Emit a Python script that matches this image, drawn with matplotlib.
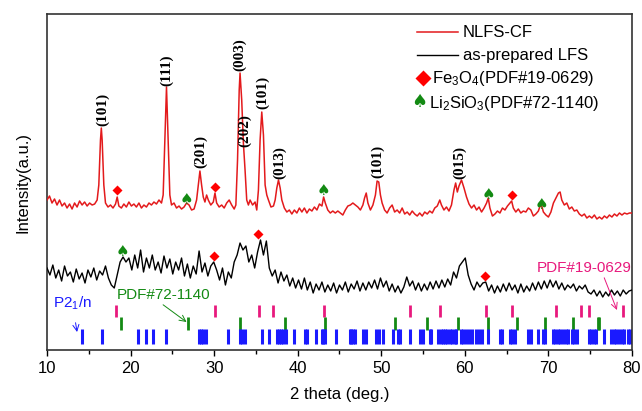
import numpy as np
import matplotlib
matplotlib.use("Agg")
import matplotlib.pyplot as plt

plt.rcParams['font.family'] = ['Liberation Sans', 'DejaVu Sans']
plt.rcParams['mathtext.fontset'] = 'custom'
plt.rcParams['mathtext.rm'] = 'Liberation Sans'
plt.rcParams['mathtext.it'] = 'Liberation Sans'

# ---------------- data ----------------
red_tt = [10.0, 10.3, 10.6, 10.9, 11.2, 11.5, 11.8, 12.1, 12.4, 12.7, 13.0, 13.3, 13.6, 13.9, 14.2, 14.5, 14.8, 15.1, 15.4, 15.7,
          16.0, 16.2, 16.4, 16.5, 16.6, 16.8, 17.0, 17.3, 17.6, 17.9, 18.2, 18.4, 18.6, 18.9, 19.2, 19.5, 19.8, 20.1, 20.4, 20.7,
          21.0, 21.3, 21.6, 21.9, 22.2, 22.5, 22.8, 23.1, 23.4, 23.7, 23.9, 24.1, 24.3, 24.5, 24.7, 24.9, 25.2, 25.5, 25.8, 26.1,
          26.4, 26.7, 27.0, 27.3, 27.6, 27.9, 28.1, 28.3, 28.5, 28.7, 28.9, 29.1, 29.3, 29.6, 29.9, 30.1, 30.3, 30.6, 30.9, 31.2,
          31.5, 31.8, 32.1, 32.4, 32.6, 32.8, 33.0, 33.1, 33.3, 33.5, 33.7, 33.9, 34.1, 34.3, 34.6, 34.9, 35.1, 35.3, 35.5, 35.7,
          35.9, 36.1, 36.3, 36.5, 36.8, 37.1, 37.3, 37.5, 37.7, 37.9, 38.1, 38.4, 38.7, 39.0, 39.3, 39.6, 39.9, 40.2, 40.5, 40.8,
          41.1, 41.4, 41.7, 42.0, 42.3, 42.6, 42.9, 43.1, 43.3, 43.6, 43.9, 44.2, 44.5, 44.8, 45.1, 45.4, 45.7, 46.0, 46.3, 46.6,
          46.9, 47.2, 47.5, 47.8, 48.0, 48.2, 48.4, 48.7, 49.0, 49.3, 49.5, 49.7, 49.9, 50.1, 50.4, 50.7, 51.0, 51.3, 51.6, 51.9,
          52.2, 52.5, 52.8, 53.1, 53.4, 53.7, 54.0, 54.3, 54.6, 54.9, 55.2, 55.5, 55.8, 56.1, 56.4, 56.7, 57.0, 57.2, 57.5, 57.8,
          58.1, 58.4, 58.7, 58.9, 59.1, 59.3, 59.6, 59.9, 60.2, 60.5, 60.8, 61.1, 61.4, 61.7, 62.0, 62.3, 62.6, 62.8, 63.0, 63.3,
          63.6, 63.9, 64.2, 64.5, 64.8, 65.1, 65.4, 65.6, 65.8, 66.1, 66.4, 66.7, 67.0, 67.3, 67.6, 67.9, 68.2, 68.5, 68.8, 69.0,
          69.2, 69.4, 69.7, 70.0, 70.3, 70.6, 70.9, 71.2, 71.4, 71.6, 71.9, 72.2, 72.5, 72.8, 73.1, 73.4, 73.7, 74.0, 74.3, 74.6,
          74.9, 75.2, 75.5, 75.8, 76.1, 76.4, 76.7, 77.0, 77.3, 77.6, 77.9, 78.2, 78.5, 78.8, 79.1, 79.4, 79.7, 80.0]
red_int = [150, 154, 147, 151, 145, 150, 144, 147, 142, 146, 141, 147, 143, 149, 145, 148, 144, 147, 145, 146,
           150, 165, 210, 222, 210, 165, 147, 143, 145, 142, 146, 153, 144, 142, 146, 143, 148, 144, 146, 143,
           147, 142, 145, 143, 147, 145, 148, 146, 150, 147, 155, 210, 263, 210, 155, 145, 147, 142, 144, 141,
           143, 147, 145, 140, 141, 150, 165, 179, 165, 153, 148, 155, 150, 145, 148, 157, 147, 143, 145, 142,
           147, 150, 145, 141, 145, 190, 260, 277, 250, 207, 180, 150, 145, 150, 145, 148, 140, 160, 210, 238,
           215, 165, 155, 150, 143, 144, 150, 162, 170, 162, 150, 142, 138, 140, 136, 140, 137, 142, 138, 142,
           137, 141, 139, 143, 140, 146, 144, 153, 147, 140, 137, 139, 137, 139, 137, 135, 140, 144, 145, 147,
           145, 143, 140, 145, 152, 157, 147, 140, 145, 155, 169, 168, 155, 147, 140, 137, 142, 145, 138, 140,
           137, 142, 136, 138, 135, 139, 136, 134, 137, 134, 138, 136, 139, 137, 142, 144, 150, 145, 140, 143,
           139, 145, 160, 167, 158, 164, 170, 162, 153, 146, 142, 145, 140, 143, 138, 142, 147, 152, 142, 134,
           136, 139, 137, 142, 140, 144, 147, 149, 142, 138, 141, 137, 139, 138, 142, 140, 134, 136, 139, 144,
           144, 138, 135, 133, 138, 147, 152, 157, 158, 150, 145, 147, 141, 143, 139, 140, 136, 134, 136, 132,
           134, 132, 135, 131, 133, 131, 134, 132, 135, 133, 136, 134, 137, 135, 137, 136, 137, 137]

black_int = [82, 75, 85, 72, 80, 69, 84, 74, 78, 68,
             81, 71, 77, 67, 80, 73, 82, 70, 79, 75,
             84, 72, 65, 62, 75, 88, 93, 88, 92, 80,
             95, 82, 100, 78, 92, 82, 95, 80, 88, 77,
             94, 82, 91, 76, 88, 80, 92, 74, 86, 72,
             84, 76, 99, 78, 87, 74, 84, 88, 80, 70,
             82, 65, 78, 72, 88, 95, 107, 100, 104, 88,
             95, 82, 98, 110, 95, 109, 82, 74, 80, 67,
             78, 69, 75, 64, 72, 62, 70, 61, 72, 60,
             68, 57, 66, 60, 68, 58, 65, 59, 67, 57,
             65, 60, 68, 58, 66, 61, 69, 59, 67, 60,
             68, 62, 70, 61, 72, 63, 69, 59, 66, 58,
             64, 57, 63, 73, 64, 69, 60, 67, 59, 66,
             60, 68, 61, 69, 62, 70, 63, 71, 65, 78,
             72, 84, 88, 92, 75, 66, 60, 68, 63, 67,
             68, 59, 65, 57, 64, 58, 66, 59, 67, 60,
             65, 57, 66, 58, 64, 59, 67, 60, 68, 61,
             69, 62, 70, 63, 69, 61, 67, 60, 65, 62,
             66, 59, 64, 61, 65, 58, 56, 60, 54, 59,
             53, 58, 54, 60, 55, 59, 54, 60, 56, 59,
             60]
black_tt = np.linspace(10, 80, len(black_int))

# phase markers on patterns
red_fe3o4_tt = [18.4, 30.1, 65.6]
red_fe3o4_int = [160, 163, 155]
red_li2sio3_tt = [26.7, 43.1, 62.8, 69.2]
red_li2sio3_int = [151, 160, 156, 146]
black_fe3o4_tt = [30.0, 35.3, 62.4]
black_fe3o4_int = [94, 116, 74]
black_li2sio3_tt = [19.0]
black_li2sio3_int = [99]

# hkl labels
hkl_labels = ['(101)', '(111)', '(201)', '(003)', '(202)', '(101)', '(013)', '(101)', '(015)']
hkl_tt = [16.6, 24.3, 28.4, 33.1, 33.65, 35.8, 37.85, 49.6, 59.4]
hkl_int = [224, 264, 182, 279, 203, 241, 171, 172, 171]

# reference patterns
pdf190629 = [18.3, 30.1, 35.4, 37.0, 43.1, 53.4, 57.0, 62.5, 65.7, 70.9, 73.9, 74.9, 78.9]
pdf721140 = [18.9, 26.9, 33.1, 38.5, 43.3, 51.6, 55.5, 59.2, 62.8, 66.3, 69.6, 72.9, 75.9, 76.1]
p21n = [14.15, 16.6, 20.85, 21.85, 22.7, 24.3, 28.2, 28.45, 28.7, 29.0, 31.6, 33.1, 33.3, 33.65, 35.7, 36.6,
        37.55, 37.8, 38.0, 38.3, 38.55, 39.6, 40.9, 41.1, 42.2, 42.9, 43.05, 43.3, 44.55,
        46.2, 46.4, 46.6, 46.8, 47.85, 48.2, 49.4, 49.7, 50.2, 51.35, 52.0, 52.25, 53.45, 54.65, 54.95,
        55.8, 56.0, 56.8, 57.1, 57.4, 57.6, 57.9, 58.2, 58.5, 58.8, 59.0, 59.5, 59.8, 60.1, 60.5, 60.9,
        61.3, 61.7, 62.1, 62.8, 64.2, 64.5, 65.4, 65.7, 66.0, 67.6, 67.9, 68.8, 69.3, 69.6,
        70.5, 70.8, 71.1, 71.4, 71.8, 72.1, 72.4, 72.8, 73.1, 73.4, 74.9, 75.1, 75.4, 75.7, 76.6,
        77.5, 77.8, 78.1, 78.5, 78.8, 79.1, 79.5, 79.8]

RED = '#e31a1c'
GREEN = '#138a13'
BLUE = '#1a1aff'
MAGENTA = '#e8197d'

# ---------------- figure ----------------
fig = plt.figure(figsize=(6.42, 4.11), dpi=100)
ax = fig.add_axes([0.0732, 0.1484, 0.9112, 0.8175])

ax.plot(red_tt, red_int, color=RED, lw=1.1, zorder=3)
ax.plot(black_tt, black_int, color='black', lw=1.0, zorder=3)

# reference sticks
ax.vlines(pdf190629, 33, 45, color=MAGENTA, lw=2.0)
ax.vlines(pdf721140, 20, 33, color=GREEN, lw=2.0)
ax.vlines(p21n, 6, 21, color=BLUE, lw=2.2)

# phase markers
ax.plot(red_fe3o4_tt, red_fe3o4_int, 'D', color='#ff0000', ms=5, mec='none', zorder=4)
ax.plot(black_fe3o4_tt, black_fe3o4_int, 'D', color='#ff0000', ms=5, mec='none', zorder=4)
for x, y in zip(red_li2sio3_tt + black_li2sio3_tt, red_li2sio3_int + black_li2sio3_int):
    ax.text(x, y, '\u2660', color=GREEN, fontsize=11, ha='center', va='center',
            family='DejaVu Sans', zorder=4)

# hkl labels
for lab, x, y in zip(hkl_labels, hkl_tt, hkl_int):
    ax.text(x, y, lab, rotation=90, ha='center', va='bottom', fontsize=11,
            family='Liberation Serif', fontweight='bold', color='black')

# annotations
ax.annotate('P2$_1$/n', xy=(13.6, 18), xytext=(10.7, 47), color=BLUE, fontsize=11,
            va='center', ha='left',
            arrowprops=dict(arrowstyle='->', color=BLUE, lw=0.7, shrinkA=6, shrinkB=0))
ax.annotate('PDF#72-1140', xy=(26.7, 28), xytext=(18.4, 55), color=GREEN, fontsize=11,
            va='center', ha='left',
            arrowprops=dict(arrowstyle='->', color=GREEN, lw=0.7, shrinkA=0, shrinkB=0,
                            relpos=(0.45, 0.0)))
ax.annotate('PDF#19-0629', xy=(78.2, 40), xytext=(68.6, 82), color=MAGENTA, fontsize=11,
            va='center', ha='left',
            arrowprops=dict(arrowstyle='->', color=MAGENTA, lw=0.7, shrinkA=0, shrinkB=0,
                            relpos=(0.7, 0.0)))

# manual legend (axes coordinates)
def axx(px):
    return (px - 47) / 585.0

def axy(py):
    return (350 - py) / 336.0

T = ax.transAxes
ax.plot([axx(417), axx(458)], [axy(32), axy(32)], color=RED, lw=1.1, transform=T)
ax.text(axx(463), axy(32), 'NLFS-CF', transform=T, fontsize=12, va='center', ha='left')
ax.plot([axx(417), axx(458)], [axy(55), axy(55)], color='black', lw=1.0, transform=T)
ax.text(axx(463), axy(55), 'as-prepared LFS', transform=T, fontsize=12, va='center', ha='left')
ax.plot([axx(423)], [axy(78)], 'D', color='#ff0000', ms=8, mec='none', transform=T)
ax.text(axx(432), axy(78), 'Fe$_3$O$_4$(PDF#19-0629)', transform=T, fontsize=12, va='center', ha='left')
ax.text(axx(419), axy(102), '\u2660', transform=T, color=GREEN, fontsize=13, va='center',
        ha='center', family='DejaVu Sans')
ax.text(axx(429), axy(103), 'Li$_2$SiO$_3$(PDF#72-1140)', transform=T, fontsize=12, va='center', ha='left')

# axes styling
ax.set_xlim(10, 80)
ax.set_ylim(0, 336)
ax.set_xticks(np.arange(10, 81, 10))
ax.set_xticks(np.arange(15, 80, 10), minor=True)
ax.tick_params(axis='x', which='major', direction='out', length=4, width=1, labelsize=12, pad=4)
ax.tick_params(axis='x', which='minor', direction='out', length=3, width=1)
ax.set_yticks([])
for s in ax.spines.values():
    s.set_color('#333333')
    s.set_linewidth(1.2)
ax.set_xlabel('2 theta (deg.)', fontsize=12, labelpad=8)
ax.set_ylabel('Intensity(a.u.)', fontsize=12, labelpad=12)

fig.savefig('out.png', dpi=100)
